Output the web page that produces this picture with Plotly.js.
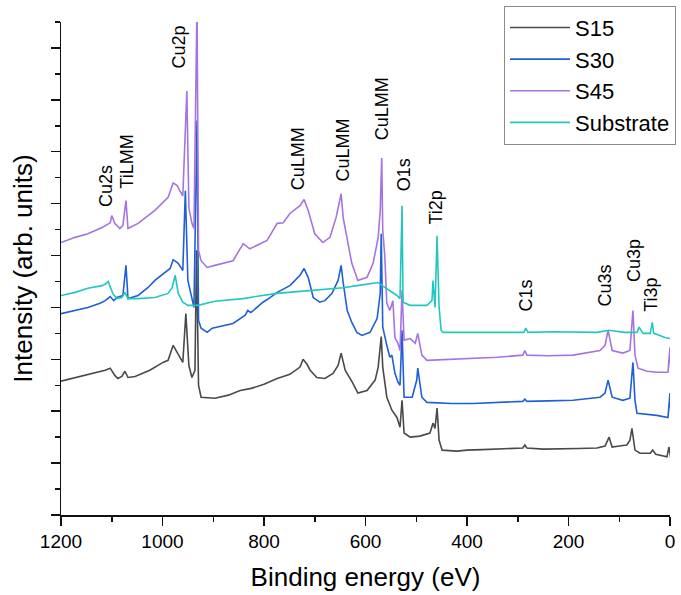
<!DOCTYPE html>
<html>
<head>
<meta charset="utf-8">
<script src="https://cdn.plot.ly/plotly-3.0.1.min.js"></script>
<style>html,body{margin:0;padding:0;background:#fff;}#chart{width:681px;height:595px;}</style>
</head>
<body>
<div id="chart"></div>
<script>
// Binding energy (eV) and intensity (arb. units)
var s15E = [1200,1172,1143,1113,1103,1094,1088,1080,1074,1068,1054,1025,999,989,979,971,966,960,954,948,942,936,933,929,924,897,870,847,825,800,774,749,729,723,715,709,696,680,664,654,648,640,625,615,597,581,575,569,566,558,552,548,538,532,528,524,512,493,473,467,463,459,455,449,420,400,370,335,290,286,282,250,217,180,144,128,120,114,100,85,79,75,69,59,39,34,28,20,6,2,-2];
var s15I = [2.58,2.65,2.71,2.79,2.83,2.69,2.63,2.67,2.77,2.65,2.67,2.79,2.94,2.98,3.27,3.13,3.04,2.94,3.88,2.88,2.65,2.79,5.10,2.50,2.27,2.25,2.31,2.40,2.44,2.52,2.63,2.71,2.85,3.00,2.90,2.79,2.65,2.63,2.73,2.88,3.12,2.79,2.54,2.35,2.40,2.60,2.85,3.44,2.85,2.27,2.12,2.02,1.88,1.69,2.21,1.58,1.50,1.52,1.58,1.77,1.67,2.06,1.44,1.25,1.23,1.25,1.26,1.27,1.29,1.35,1.29,1.27,1.27,1.28,1.29,1.33,1.50,1.31,1.33,1.35,1.44,1.67,1.25,1.19,1.19,1.25,1.17,1.15,1.12,1.31,1.06];

var s30E = [1200,1172,1147,1123,1113,1103,1096,1090,1078,1072,1068,1048,1029,1015,995,985,979,973,969,960,955,950,942,938,932,929,924,912,902,887,861,837,832,826,802,788,774,749,729,721,713,703,690,680,666,654,648,644,636,627,617,607,591,577,571,569,566,558,552,548,542,536,532,528,524,508,499,497,493,489,479,430,388,340,290,286,282,240,191,138,128,122,118,114,93,79,73,69,65,45,26,4,0,-2];
var s30I = [3.88,3.94,4.00,4.08,4.13,4.21,4.13,4.19,4.23,4.81,4.17,4.23,4.38,4.52,4.67,4.75,4.92,4.87,4.85,4.71,6.25,4.52,4.19,4.00,7.60,3.75,3.60,3.52,3.60,3.63,3.69,3.85,3.94,3.90,4.10,4.19,4.29,4.42,4.62,4.75,4.58,4.19,4.10,4.13,4.27,4.52,4.81,4.48,3.94,3.71,3.52,3.46,3.52,3.79,4.27,5.42,3.62,3.27,3.04,3.08,2.73,2.56,2.50,3.56,2.27,2.27,2.60,2.83,2.50,2.27,2.17,2.15,2.15,2.17,2.19,2.23,2.19,2.20,2.21,2.27,2.35,2.60,2.40,2.27,2.21,2.25,2.94,2.21,1.96,1.94,1.92,1.88,2.35,1.87];

var s45E = [1200,1172,1147,1119,1103,1100,1094,1084,1078,1072,1068,1048,1015,989,979,971,966,960,952,948,942,938,932,929,924,912,897,861,841,828,794,774,762,749,729,721,713,700,684,670,658,648,644,636,627,615,597,585,575,571,568,566,562,558,552,546,542,536,532,528,524,512,502,497,493,489,479,430,388,340,290,286,282,240,191,138,128,122,118,114,93,79,73,69,63,45,26,4,0,-2];
var s45I = [5.25,5.35,5.42,5.54,5.63,5.77,5.62,5.52,5.58,6.06,5.52,5.62,5.87,6.12,6.40,6.35,6.25,6.15,8.17,5.92,5.62,5.52,9.90,5.10,4.90,4.77,4.81,4.90,5.23,5.13,5.29,5.62,5.63,5.81,5.96,6.08,5.87,5.42,5.25,5.35,5.73,6.19,5.73,5.29,4.85,4.52,4.58,4.85,5.35,5.87,6.88,5.48,5.00,4.08,3.94,4.13,3.42,3.31,3.17,4.33,3.37,3.40,3.31,3.50,3.27,3.08,2.98,3.00,3.02,3.04,3.08,3.17,3.08,3.07,3.08,3.17,3.27,3.56,3.37,3.17,3.12,3.17,3.94,3.08,2.83,2.77,2.75,2.75,3.23,2.65];

var subE = [1200,1172,1147,1119,1111,1107,1098,1090,1080,1074,1068,1048,1015,989,981,975,969,960,950,930,897,870,841,810,774,740,709,680,644,610,591,575,567,552,538,532,528,526,512,479,469,467,463,459,455,451,447,400,335,288,284,280,230,180,144,120,90,65,61,53,39,35,32,20,10,0];
var subI = [4.23,4.29,4.37,4.42,4.46,4.50,4.27,4.17,4.19,4.29,4.17,4.17,4.19,4.27,4.38,4.62,4.27,4.10,4.04,4.04,4.12,4.15,4.17,4.22,4.27,4.30,4.33,4.35,4.38,4.43,4.46,4.48,4.42,4.33,4.23,4.17,5.96,4.10,4.04,4.04,4.13,4.52,4.00,5.38,4.00,3.56,3.52,3.52,3.52,3.52,3.60,3.52,3.53,3.52,3.52,3.56,3.52,3.52,3.62,3.50,3.50,3.71,3.50,3.46,3.42,3.40];

var seriesNames = ['S15','S30','S45','Substrate'];
var seriesColors = ['#4a4a4a','#1f5fd8','#a574e0','#22c7bf'];

// Peak labels: text, energy (eV), intensity at label bottom
var peakLabels = ['Cu2s','TiLMM','Cu2p','CuLMM','CuLMM','CuLMM','O1s','Ti2p','C1s','Cu3s','Cu3p','Ti3p'];
var peakE      = [1111,1070,967,733,644,567,524,461,284,128,71,39];
var peakY      = [5.90,6.25,8.56,6.21,6.38,7.18,6.19,5.56,3.88,3.98,4.46,3.88];

var xTickVals = [1200,1000,800,600,400,200,0];

var font = 'Arial, "Liberation Sans", sans-serif';
var energies = [s15E,s30E,s45E,subE];
var intens = [s15I,s30I,s45I,subI];
var traces = seriesNames.map(function(n,i){
  return {x: energies[i], y: intens[i], name: n, type:'scatter', mode:'lines',
          line:{color: seriesColors[i], width:1.6}};
});

var annotations = peakLabels.map(function(t,i){
  return {x: peakE[i], y: peakY[i], xref:'x', yref:'y', text: t, showarrow:false,
          textangle:-90, xanchor:'center', yanchor:'bottom',
          font:{family:font, size:18, color:'#000'}};
});

var layout = {
  width:681, height:595,
  margin:{l:61, r:11, t:22, b:80, autoexpand:false},
  paper_bgcolor:'#fff', plot_bgcolor:'#fff',
  showlegend:true,
  legend:{x:0.7274, y:1.033, xanchor:'left', yanchor:'top', bordercolor:'#8a8a8a', borderwidth:1,
          bgcolor:'rgba(255,255,255,0)', font:{family:font, size:22, color:'#000'},
          itemwidth:60, tracegroupgap:0},
  xaxis:{range:[1200,0], showgrid:false, zeroline:false, showline:true, linecolor:'#111', linewidth:1.5,
         ticks:'outside', ticklen:9, tickwidth:1.5, tickcolor:'#111',
         tickmode:'array', tickvals:xTickVals, ticktext:xTickVals.map(String),
         tickfont:{family:font, size:19, color:'#000'},
         minor:{ticks:'outside', ticklen:5, tickwidth:1.5, tickcolor:'#111', tickmode:'linear', tick0:0, dtick:100},
         title:{text:'Binding energy (eV)', font:{family:font, size:26, color:'#000'}, standoff:16}},
  yaxis:{range:[0,9.5], showgrid:false, zeroline:false, showline:true, linecolor:'#111', linewidth:1.5,
         ticks:'outside', ticklen:9, tickwidth:1.5, tickcolor:'#111', tick0:0, dtick:1, showticklabels:false,
         minor:{ticks:'outside', ticklen:5, tickwidth:1.5, tickcolor:'#111', tick0:0, dtick:0.5},
         title:{text:'Intensity (arb. units)', font:{family:font, size:26, color:'#000'}, standoff:10}},
  annotations: annotations
};

Plotly.newPlot('chart', traces, layout, {displayModeBar:false, staticPlot:true});
</script>
</body>
</html>
